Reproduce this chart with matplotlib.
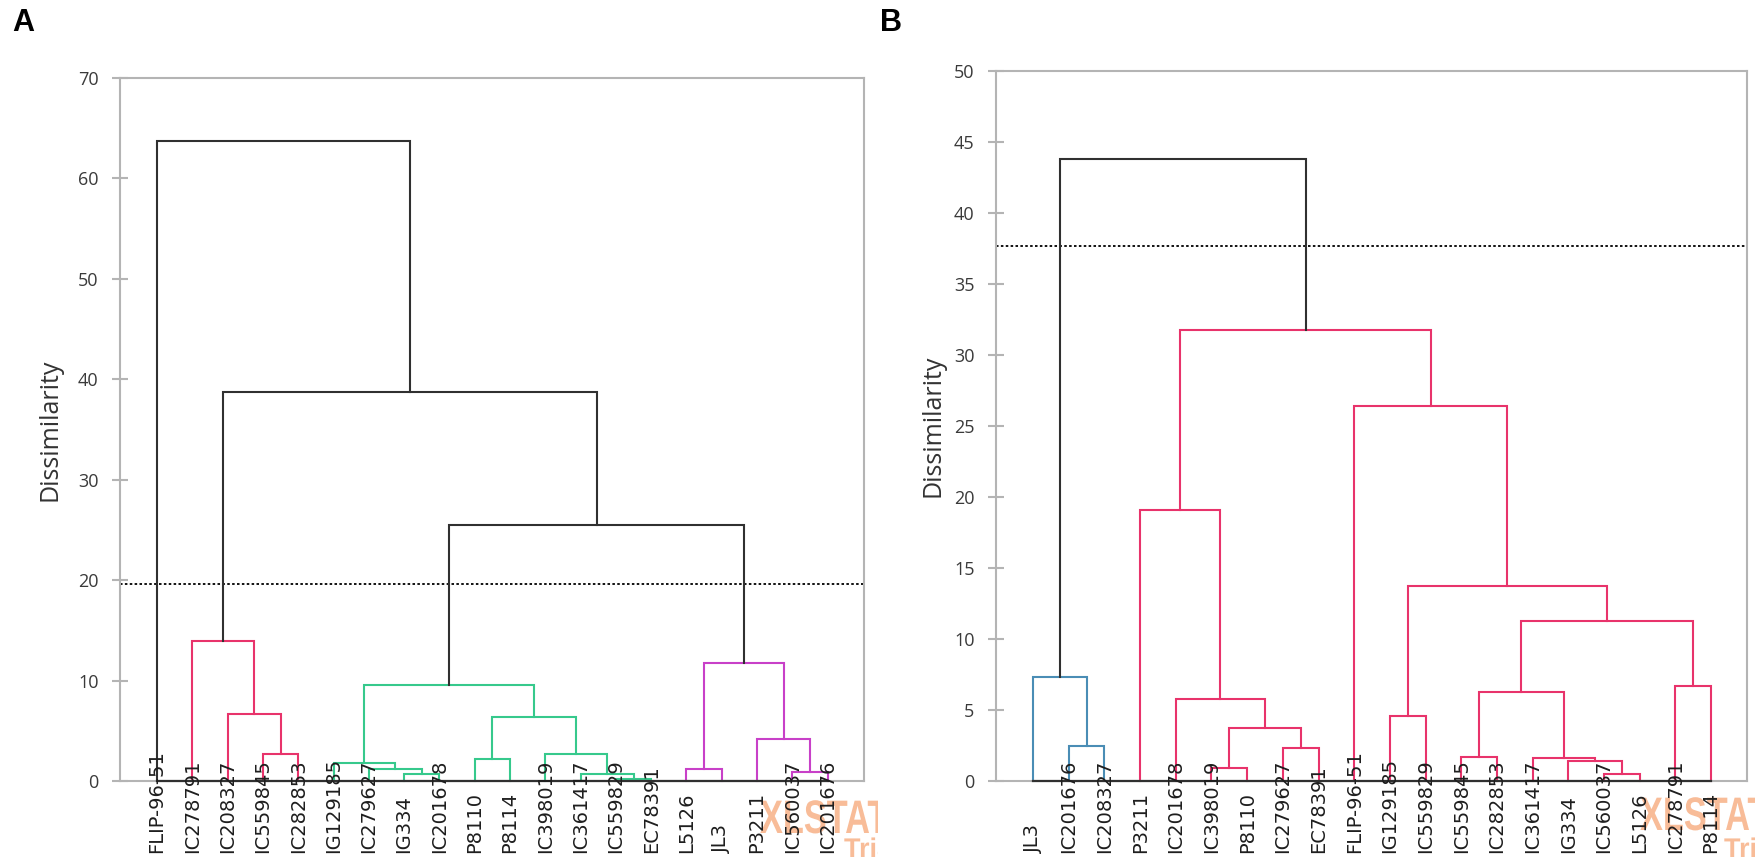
"""
Two agglomerative-clustering dendrograms (panels A and B) of 20 accessions,
drawn by hand from the merge table read off the reference figure.
"""
import matplotlib
matplotlib.use("Agg")
import matplotlib.pyplot as plt
from matplotlib.transforms import (Affine2D, Bbox, IdentityTransform,
                                   TransformedBbox, blended_transform_factory)
from matplotlib.textpath import TextPath
from matplotlib.patches import PathPatch
from matplotlib.font_manager import FontProperties

# ---------------------------------------------------------------- data, panel A
LEAVES_A = ["FLIP-96-51", "IC278791", "IC208327", "IC559845", "IC282853",
            "IG129185", "IC279627", "IG334", "IC201678", "P8110", "P8114",
            "IC398019", "IC361417", "IC559829", "EC78391", "L5126", "JL3",
            "P3211", "IC560037", "IC201676"]
# merge k creates node 20 + k
LINK_LEFT_A = [3, 2, 1, 7, 6, 5, 9, 13, 12, 11, 26, 25, 15, 18, 17, 32, 31, 22, 0]
LINK_RIGHT_A = [4, 20, 21, 8, 23, 24, 10, 14, 27, 28, 29, 30, 16, 19, 33, 34, 35, 36, 37]
LINK_HEIGHT_A = [2.7, 6.7, 13.9, 0.65, 1.15, 1.8, 2.2, 0.2, 0.7, 2.65, 6.4, 9.6,
                 1.2, 0.85, 4.15, 11.7, 25.5, 38.7, 63.7]
LINK_GROUP_A = ["I", "I", "I", "II", "II", "II", "II", "II", "II", "II", "II", "II",
                "III", "III", "III", "III", "-", "-", "-"]
CUT_A = 19.6

# ---------------------------------------------------------------- data, panel B
LEAVES_B = ["JL3", "IC201676", "IC208327", "P3211", "IC201678", "IC398019",
            "P8110", "IC279627", "EC78391", "FLIP-96-51", "IG129185", "IC559829",
            "IC559845", "IC282853", "IC361417", "IG334", "IC560037", "L5126",
            "IC278791", "P8114"]
LINK_LEFT_B = [1, 0, 5, 7, 22, 4, 3, 10, 12, 16, 15, 14, 28, 18, 32, 27, 9, 26, 21]
LINK_RIGHT_B = [2, 20, 6, 8, 23, 24, 25, 11, 13, 17, 29, 30, 31, 19, 33, 34, 35, 36, 37]
LINK_HEIGHT_B = [2.45, 7.35, 0.95, 2.3, 3.7, 5.75, 19.1, 4.6, 1.7, 0.5, 1.4, 1.65,
                 6.25, 6.7, 11.25, 13.75, 26.4, 31.75, 43.8]
LINK_GROUP_B = ["I", "I", "II", "II", "II", "II", "II", "II", "II", "II", "II", "II",
                "II", "II", "II", "II", "II", "II", "-"]
CUT_B = 37.7

# ---------------------------------------------------------------- styles
BLACK = "#303030"
GREY = "#b4b4b4"
COLOURS_A = {"I": "#e8336b", "II": "#36c98c", "III": "#c840c8", "-": BLACK}
COLOURS_B = {"I": "#4a8db5", "II": "#e8336b", "-": BLACK}
WATERMARK = "#f8bc98"

W, H = 1756, 860


def draw_tree(ax, leaves, left, right, height, group, colours, label_y):
    n = len(leaves)
    xs = [float(i) for i in range(n)]
    ys = [0.0] * n
    for l, r, h, g in zip(left, right, height, group):
        xl, xr, yl, yr = xs[l], xs[r], ys[l], ys[r]
        ax.plot([xl, xl, xr, xr], [yl, h, h, yr], color=colours[g], lw=1.5,
                solid_joinstyle="miter", clip_on=False, zorder=2)
        xs.append((xl + xr) / 2)
        ys.append(h)
    ax.plot([0, n - 1], [0, 0], color=BLACK, lw=1.6, clip_on=False, zorder=3)

    trans = blended_transform_factory(ax.transData, ax.transAxes)
    for i, name in enumerate(leaves):
        ax.text(i, label_y, name, rotation=90, ha="center", va="bottom",
                transform=trans, fontsize=14, family="DejaVu Sans",
                color="#1e1e1e", zorder=4)


def style_axes(ax, ymax, step, xlim):
    ax.set_xlim(*xlim)
    ax.set_ylim(0, ymax)
    ax.set_yticks(range(0, ymax + 1, step))
    ax.set_xticks([])
    for s in ax.spines.values():
        s.set_color(GREY)
        s.set_linewidth(1.5)
    ax.tick_params(axis="y", direction="inout", length=11, width=1.5,
                   color=GREY, pad=10, labelsize=13, labelcolor="#3a3a3a")
    for t in ax.get_yticklabels():
        t.set_family("Open Sans")


def watermark(fig, x0, base, clip_right=None):
    prop = FontProperties(family="Liberation Sans", weight="bold")
    big = TextPath((0, 0), "XLSTAT", size=47, prop=prop)
    small = TextPath((0, 0), "Trial", size=27, prop=prop)
    for path, sx, dx, y in [(big, 0.73, 0, base), (small, 1.0, 84, 857)]:
        tr = Affine2D().scale(sx, 1.0).translate(x0 + dx, H - y) + IdentityTransform()
        patch = PathPatch(path, transform=tr, facecolor=WATERMARK,
                          edgecolor="none", zorder=-1)
        if clip_right is not None:
            patch.set_clip_box(TransformedBbox(Bbox([[0, 0], [clip_right, H]]),
                                               IdentityTransform()))
            patch.set_clip_on(True)
        else:
            patch.set_clip_on(False)
        fig.add_artist(patch)


fig = plt.figure(figsize=(W / 100, H / 100), dpi=100)

# panel A
axA = fig.add_axes([120 / W, (H - 781) / H, 744 / W, 703 / H])
style_axes(axA, 70, 10, (-1.05, 20.03))
draw_tree(axA, LEAVES_A, LINK_LEFT_A, LINK_RIGHT_A, LINK_HEIGHT_A, LINK_GROUP_A,
          COLOURS_A, -72 / 703)
axA.axhline(CUT_A, color="black", lw=1.3, ls=(0, (1.4, 1.3)), zorder=1)

# panel B
axB = fig.add_axes([996 / W, (H - 781) / H, 751 / W, 710 / H])
style_axes(axB, 50, 5, (-1.04, 20.01))
draw_tree(axB, LEAVES_B, LINK_LEFT_B, LINK_RIGHT_B, LINK_HEIGHT_B, LINK_GROUP_B,
          COLOURS_B, -72 / 710)
axB.axhline(CUT_B, color="black", lw=1.3, ls=(0, (1.4, 1.3)), zorder=1)

# axis titles and panel letters
fig.text(50 / W, 1 - 430 / H, "Dissimilarity", rotation=90, ha="center",
         va="center", fontsize=18, family="Open Sans", color="#333333")
fig.text(933 / W, 1 - 426 / H, "Dissimilarity", rotation=90, ha="center",
         va="center", fontsize=18, family="Open Sans", color="#333333")
fig.text(12 / W, 1 - 8 / H, "A", fontsize=22, weight="bold",
         family="Liberation Sans", ha="left", va="top")
fig.text(880 / W, 1 - 8 / H, "B", fontsize=22, weight="bold",
         family="Liberation Sans", ha="left", va="top")

watermark(fig, 760, 833, clip_right=878)
watermark(fig, 1640, 830)

fig.savefig("out.png", dpi=100)
